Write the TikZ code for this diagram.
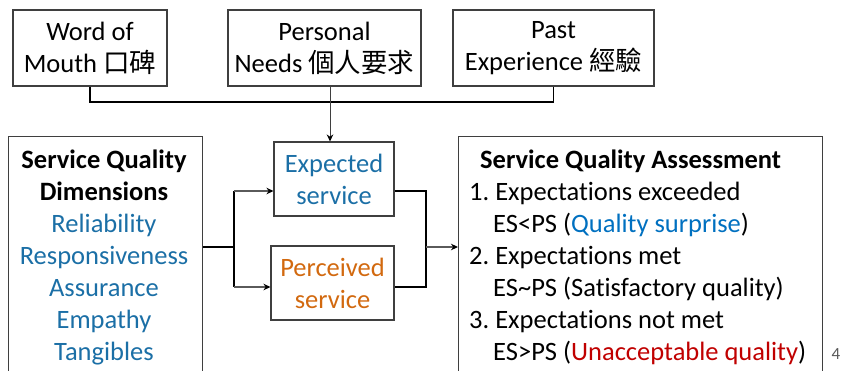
\documentclass[tikz,border=0pt]{standalone}
\usepackage{fontspec}
\setmainfont{Carlito}[Ligatures=NoCommon]
\newfontfamily\cjk{Noto Sans CJK TC}
\usetikzlibrary{arrows.meta,calc}
\definecolor{dimblue}{HTML}{1B6FA6}
\definecolor{surpriseblue}{HTML}{0070C0}
\definecolor{percorange}{HTML}{D2690F}
\definecolor{badred}{HTML}{C00000}
\definecolor{framegray}{HTML}{3F3F3F}
\definecolor{stubgray}{HTML}{5A5A5A}
\definecolor{pagegray}{HTML}{595959}
\frenchspacing

\begin{document}
\begin{tikzpicture}[x=1pt,y=-1pt,
  box/.style={draw=framegray, line width=1.1pt, inner sep=0pt, align=center,
              font=\fontsize{26.5}{32}\selectfont},
  panel/.style={draw=framegray, line width=1.1pt, inner sep=0pt, anchor=north west},
  body/.style={inner sep=0pt, font=\fontsize{26.5}{32}\selectfont},
  bus/.style={draw=black, line width=1.8pt},
  feed/.style={draw=stubgray, line width=1.3pt,
               -{Stealth[length=7pt,width=6.5pt,color=black]}},
  dropline/.style={draw=framegray, line width=1pt,
               -{Stealth[length=7pt,width=6.5pt,color=black]}},
]
\useasboundingbox (0,0) rectangle (841,370);
\clip (0,0) rectangle (841,370);

% antecedents of expected service
\node[box, minimum width=154, minimum height=76] (wom)   at (90,48)    {Word of\\Mouth {\cjk 口碑}};
\node[box, minimum width=193, minimum height=76] (needs) at (324.5,48) {Personal\\Needs {\cjk 個人要求}};
\node[box, minimum width=201, minimum height=76] (past)  at (553.5,48) {Past\\Experience {\cjk 經驗}};

% expected / perceived service
\node[box, minimum width=120, minimum height=74, text=dimblue]    (exp)  at (334,179)   {Expected\\service};
\node[box, minimum width=123, minimum height=74, text=percorange] (perc) at (332.5,283) {Perceived\\service};

% dimensions panel (the base anchor sits on the last line)
\node[panel, minimum width=194, minimum height=260] (dims) at (8,136) {};
\node[body, align=center, anchor=base] (dimtext) at (104,360)
  {\textbf{Service Quality}\\\textbf{Dimensions}\\
   \textcolor{dimblue}{Reliability}\\\textcolor{dimblue}{Responsiveness}\\
   \textcolor{dimblue}{Assurance}\\\textcolor{dimblue}{Empathy}\\
   \textcolor{dimblue}{Tangibles}};

% assessment panel
\node[panel, minimum width=364, minimum height=260] (assess) at (458,136) {};
\node[body, align=left, anchor=base west] (assesstext) at (469,360)
  {\hspace*{11pt}\textbf{Service Quality Assessment}\\
   1. Expectations exceeded\\
   \hspace*{24pt}ES<PS (\textcolor{surpriseblue}{Quality surprise})\\
   2. Expectations met\\
   \hspace*{24pt}ES\textasciitilde PS (Satisfactory quality)\\
   3. Expectations not met\\
   \hspace*{24pt}ES>PS (\textcolor{badred}{Unacceptable quality})};

% page number
\node[inner sep=0pt, anchor=base, text=pagegray, font=\fontsize{17}{17}\selectfont] (pagenum) at (836,359) {4};

% connector geometry
\coordinate (busy) at (0,102);
\coordinate (dropx) at (330,0);
\coordinate (ein) at ($(exp.west)+(0,12)$);
\coordinate (pin) at ($(perc.west)+(0,4)$);
\coordinate (lj) at (234,247);
\coordinate (rj) at (426,247);

% collecting bus from the antecedents
\draw[bus] (wom.south) -- (wom.south |- busy) -- (past.south |- busy) -- (past.south);
\draw[dropline] (needs.south -| dropx) -- (exp.north -| dropx);

% fork from the dimensions panel
\draw[bus] (dims.east |- lj) -- (lj);
\draw[bus] (lj |- ein) -- (lj |- pin);
\draw[feed] (lj |- ein) -- (ein);
\draw[feed] (lj |- pin) -- (pin);

% join into the assessment panel
\draw[bus] (exp.east |- ein) -- (rj |- ein) -- (rj |- pin) -- (perc.east |- pin);
\draw[feed] (rj) -- (assess.west |- rj);
\end{tikzpicture}
\end{document}
